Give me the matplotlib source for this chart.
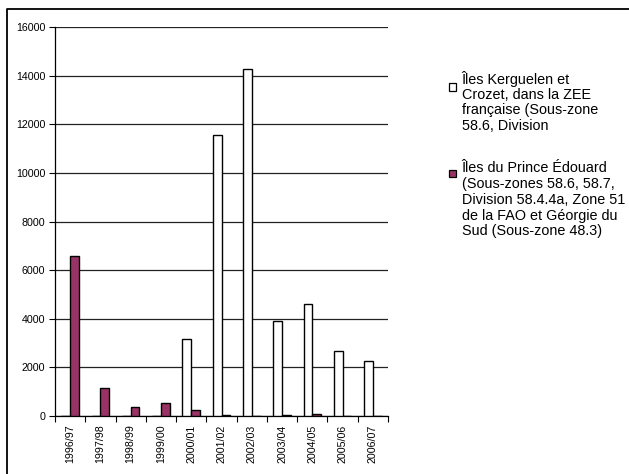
import matplotlib
matplotlib.use("Agg")
import matplotlib.pyplot as plt
from matplotlib.lines import Line2D
from matplotlib.patches import Rectangle
import numpy as np

plt.rcParams['font.family'] = ['Liberation Sans', 'DejaVu Sans']

seasons = ["1996/97", "1997/98", "1998/99", "1999/00", "2000/01", "2001/02",
           "2002/03", "2003/04", "2004/05", "2005/06", "2006/07"]
kerguelen = [0, 0, 0, 0, 3160, 11550, 14280, 3910, 4620, 2660, 2260]
prince_edouard = [6600, 1170, 370, 540, 235, 25, 15, 50, 80, 0, 0]

legend_kerguelen = ["Îles Kerguelen et", "Crozet, dans la ZEE",
                    "française (Sous-zone", "58.6, Division"]
legend_prince = ["Îles du Prince Édouard", "(Sous-zones 58.6, 58.7,",
                 "Division 58.4.4a, Zone 51", "de la FAO et Géorgie du",
                 "Sud (Sous-zone 48.3)"]

W, H = 629, 474
fig = plt.figure(figsize=(W / 100, H / 100), dpi=100)
ax = fig.add_axes([55 / W, 1 - 416 / H, (388 - 55) / W, (416 - 27) / H])

x = np.arange(len(seasons))
bw = 0.29
ax.bar(x - bw / 2, kerguelen, width=bw, color="white", edgecolor="black",
       linewidth=1.0, zorder=3)
ax.bar(x + bw / 2, prince_edouard, width=bw, color="#993366", edgecolor="black",
       linewidth=1.0, zorder=3)

ax.set_xlim(-0.5, len(seasons) - 0.5)
ax.set_ylim(0, 16000)
ax.set_yticks(np.arange(0, 16001, 2000))
ax.tick_params(axis='y', labelsize=7.7, direction='out', length=4, width=0.8, pad=3)
ax.set_xticks(x)
ax.set_xticklabels(seasons, rotation=90, fontsize=7.7)
ax.tick_params(axis='x', length=0, pad=6)
ax.set_xticks(np.arange(-0.5, len(seasons)), minor=True)
ax.tick_params(axis='x', which='minor', length=4, width=0.8, direction='out')

ax.yaxis.grid(True, color="#222222", linewidth=0.9, zorder=0)
ax.set_axisbelow(True)
for s in ["top", "right"]:
    ax.spines[s].set_visible(False)
ax.spines["left"].set_linewidth(0.9)
ax.spines["bottom"].set_linewidth(0.9)

# outer frame (partially visible)
fig.add_artist(Line2D([7.3 / W, 7.3 / W, 1.0], [0, 1 - 9.3 / H, 1 - 9.3 / H],
                      transform=fig.transFigure, color="black", linewidth=1.3))

# legend
fs = 10.35
spacing = 15.7


def draw_entry(lines, y_first, marker_y, color):
    fig.add_artist(Rectangle((448.5 / W, 1 - (marker_y + 3.5) / H), 7 / W, 7 / H,
                             transform=fig.transFigure, facecolor=color,
                             edgecolor="black", linewidth=0.9))
    for i, t in enumerate(lines):
        fig.text(461.5 / W, 1 - (y_first + i * spacing) / H, t, fontsize=fs,
                 ha="left", va="center")


draw_entry(legend_kerguelen, 79, 87, "white")
draw_entry(legend_prince, 168.5, 173.5, "#993366")

fig.savefig("out.png", dpi=100)
